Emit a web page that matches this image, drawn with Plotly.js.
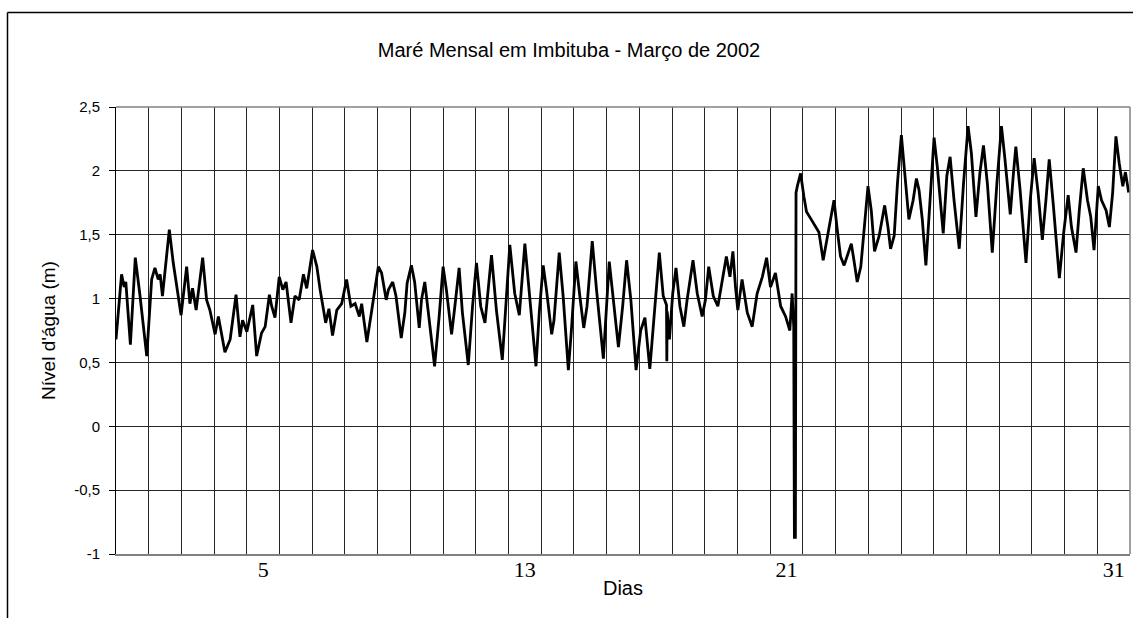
<!DOCTYPE html>
<html>
<head>
<meta charset="utf-8">
<script src="https://cdn.plot.ly/plotly-3.0.1.min.js"></script>
<style>
html,body{margin:0;padding:0;background:#fff;}
#chart{width:1133px;height:618px;}
</style>
</head>
<body>
<div id="chart"></div>
<script>
// Time in days since 1 March 2002 00:00 (day 1 occupies 0..1)
const dias = [
0.00,0.17,0.25,0.30,0.44,0.59,0.73,0.94,1.09,1.19,1.29,1.35,1.42,1.50,1.63,1.75,1.86,1.99,
2.16,2.26,2.34,2.45,2.65,2.77,2.87,3.03,3.13,3.21,3.33,3.49,3.67,3.79,3.87,4.00,4.18,4.30,
4.45,4.56,4.69,4.76,4.86,4.99,5.10,5.20,5.35,5.47,5.60,5.73,5.83,6.01,6.14,6.24,6.41,6.51,
6.62,6.75,6.90,7.05,7.18,7.31,7.44,7.51,7.67,7.82,8.02,8.12,8.26,8.33,8.46,8.56,8.72,8.83,
8.90,9.03,9.13,9.27,9.34,9.44,9.54,9.74,9.88,10.00,10.10,10.26,10.36,10.49,10.59,10.77,10.90,
11.02,11.15,11.28,11.48,11.63,11.81,11.94,12.04,12.19,12.33,12.50,12.65,12.84,12.94,13.06,
13.16,13.32,13.39,13.55,13.67,13.83,13.93,14.06,14.18,14.30,14.40,14.56,14.69,14.90,15.08,
15.20,15.36,15.49,15.61,15.74,15.90,16.04,16.17,16.32,16.48,16.61,16.73,16.83,16.84,16.85,
16.92,17.02,17.12,17.24,17.36,17.46,17.64,17.77,17.92,18.02,18.12,18.26,18.40,18.53,18.66,
18.77,18.86,18.94,19.01,19.14,19.30,19.45,19.60,19.76,19.89,20.01,20.16,20.32,20.47,20.60,
20.67,20.72,20.74,20.77,20.79,20.83,20.93,21.03,21.11,21.23,21.39,21.49,21.62,21.74,21.95,
22.05,22.15,22.26,22.36,22.48,22.56,22.66,22.77,22.87,22.99,23.09,23.19,23.33,23.50,23.60,
23.68,23.79,23.89,24.01,24.11,24.24,24.37,24.47,24.55,24.65,24.76,24.89,25.01,25.11,25.29,
25.40,25.50,25.62,25.78,25.91,26.05,26.15,26.29,26.41,26.52,26.64,26.79,26.93,27.07,27.17,
27.34,27.43,27.51,27.64,27.82,27.95,28.07,28.19,28.32,28.43,28.53,28.66,28.84,28.97,29.11,
29.21,29.35,29.45,29.57,29.70,29.80,29.90,30.03,30.13,30.27,30.37,30.47,30.57,30.67,30.78,
30.86,30.96
];
// Water level (m)
const nivel = [
0.68,1.19,1.09,1.13,0.64,1.32,1.03,0.55,1.15,1.24,1.15,1.19,1.02,1.20,1.54,1.28,1.09,0.87,
1.25,0.96,1.08,0.91,1.32,0.99,0.91,0.72,0.86,0.74,0.58,0.68,1.03,0.70,0.83,0.74,0.95,0.55,
0.73,0.78,1.03,0.94,0.85,1.17,1.07,1.13,0.81,1.02,0.99,1.19,1.08,1.38,1.25,1.07,0.81,0.92,
0.71,0.91,0.96,1.15,0.94,0.96,0.86,0.96,0.66,0.91,1.25,1.20,0.99,1.07,1.13,1.02,0.69,0.89,
1.12,1.26,1.13,0.77,0.99,1.13,0.91,0.47,0.86,1.25,1.07,0.72,0.94,1.24,0.89,0.48,0.94,
1.28,0.94,0.81,1.34,0.91,0.52,1.04,1.42,1.04,0.87,1.43,0.99,0.47,0.89,1.26,
1.07,0.72,0.83,1.36,1.02,0.44,0.78,1.29,1.02,0.77,0.94,1.45,1.07,0.53,1.29,
1.02,0.62,0.94,1.30,0.99,0.44,0.75,0.85,0.45,0.94,1.36,1.02,0.95,0.51,0.90,
0.68,1.04,1.24,0.94,0.78,0.99,1.30,1.04,0.86,0.99,1.25,1.02,0.94,1.15,1.33,
1.17,1.37,1.09,0.91,1.15,0.89,0.78,1.04,1.17,1.32,1.09,1.20,0.94,0.86,0.75,
1.04,0.78,-0.87,-0.87,1.83,1.88,1.98,1.80,1.68,1.63,1.56,1.52,1.30,1.46,1.77,
1.54,1.33,1.26,1.33,1.43,1.30,1.13,1.25,1.56,1.88,1.69,1.37,1.49,1.73,1.56,
1.39,1.49,1.90,2.28,1.98,1.62,1.77,1.94,1.85,1.62,1.26,1.77,2.26,2.03,1.51,
1.96,2.11,1.77,1.39,1.90,2.35,2.14,1.64,1.98,2.20,1.90,1.36,1.90,2.35,2.11,
1.66,1.96,2.19,1.85,1.28,1.77,2.10,1.83,1.46,1.77,2.09,1.72,1.16,1.51,1.81,
1.56,1.36,1.69,2.02,1.77,1.64,1.38,1.88,1.77,1.69,1.56,1.83,2.27,2.06,1.88,
1.99,1.83
];
const diaLabels = ['5','13','21','31'];
const diaLabelPos = [4.5,12.5,20.5,30.5];
const yTickVals = [-1,-0.5,0,0.5,1,1.5,2,2.5];
const yTickText = ['-1','-0,5','0','0,5','1','1,5','2','2,5'];

const sans = 'Liberation Sans, Arial, sans-serif';
const serif = 'Liberation Serif, Times New Roman, serif';

const W = 1133, H = 618, L = 116, R = 3, T = 107, B = 64;
const pw = W - L - R, ph = H - T - B;
const px2x = p => (p - L) / pw;
const py2y = p => (H - B - p) / ph;

const trace = {
  x: dias, y: nivel, type: 'scatter', mode: 'lines',
  line: {color: '#000', width: 2.8},
  hoverinfo: 'x+y', showlegend: false
};

const layout = {
  width: W, height: H,
  margin: {l: L, r: R, t: T, b: B, pad: 0},
  paper_bgcolor: '#fff', plot_bgcolor: '#fff',
  separators: ',.',
  showlegend: false,
  title: {
    text: 'Maré Mensal em Imbituba - Março de 2002',
    font: {family: sans, size: 20, color: '#000'},
    xref: 'container', x: 569 / W, xanchor: 'center',
    yref: 'container', y: 1 - 50 / H, yanchor: 'middle'
  },
  xaxis: {
    range: [0, 31], fixedrange: true,
    tickvals: diaLabelPos, ticktext: diaLabels,
    ticks: '', showgrid: false, zeroline: false,
    showline: true, linecolor: '#808080', linewidth: 2,
    tickfont: {family: serif, size: 22, color: '#000'},
    ticklabelstandoff: -5,
    minor: {tick0: 0, dtick: 1, showgrid: true, gridcolor: '#262626', gridwidth: 1, ticks: ''},
    title: {text: 'Dias', font: {family: sans, size: 20, color: '#000'}, standoff: 0}
  },
  yaxis: {
    range: [-1, 2.5], fixedrange: true,
    tickvals: yTickVals, ticktext: yTickText,
    ticks: 'outside', ticklen: 6, tickcolor: '#000', tickwidth: 1,
    showgrid: true, gridcolor: '#262626', gridwidth: 1, zeroline: false,
    showline: true, linecolor: '#000', linewidth: 1,
    tickfont: {family: sans, size: 15, color: '#000'},
    ticklabelstandoff: 6,
    title: {text: "Nível d'água (m)", font: {family: sans, size: 19, color: '#000'}, standoff: 13}
  },
  shapes: [
    {type: 'line', xref: 'paper', yref: 'paper', x0: 0, x1: 1, y0: 1, y1: 1,
     line: {color: '#808080', width: 1.5}},
    {type: 'line', xref: 'paper', yref: 'paper', x0: 1, x1: 1, y0: 0, y1: 1,
     line: {color: '#808080', width: 1.5}},
    {type: 'line', xref: 'paper', yref: 'paper', x0: px2x(7.5), x1: px2x(7.5), y0: py2y(12.5), y1: py2y(640),
     line: {color: '#000', width: 1.5}},
    {type: 'line', xref: 'paper', yref: 'paper', x0: px2x(7.5), x1: px2x(1150), y0: py2y(12.5), y1: py2y(12.5),
     line: {color: '#000', width: 1.5}}
  ]
};

Plotly.newPlot('chart', [trace], layout, {displayModeBar: false, staticPlot: true});
</script>
</body>
</html>
